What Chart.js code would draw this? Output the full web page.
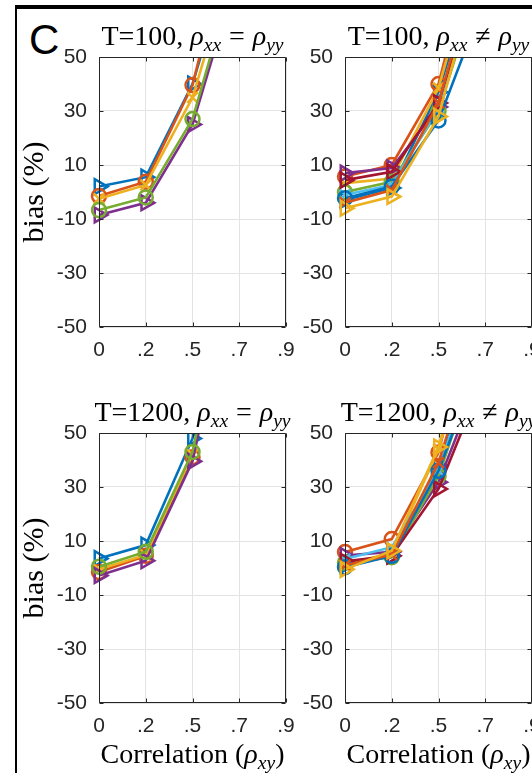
<!DOCTYPE html>
<html>
<head>
<meta charset="utf-8">
<script src="https://cdn.jsdelivr.net/npm/chart.js@4.4.1/dist/chart.umd.min.js"></script>
<style>
html,body{margin:0;padding:0;background:#fff;width:532px;height:773px;overflow:hidden;position:relative}
canvas{position:absolute}
.lab{position:absolute;font-family:'Liberation Serif',serif;color:#000;white-space:nowrap;line-height:1;font-size:28px}
.lab i{font-style:italic}
.lab sub{font-size:70%;vertical-align:-0.3em;line-height:0;font-style:italic}
.rel{margin:0 0.28em}
</style>
</head>
<body>
<div style="position:absolute;left:15px;top:5px;right:0;height:4px;background:#000"></div>
<div style="position:absolute;left:15px;top:5px;bottom:0;width:2px;background:#000"></div>
<div style="position:absolute;left:29px;top:19px;font-family:'Liberation Sans',sans-serif;font-size:42px;line-height:1;color:#000">C</div>
<script>
// ---------------- data ----------------
const categories = ['0', '.2', '.5', '.7', '.9'];
const yTickValues = [-50, -30, -10, 10, 30, 50];
const lineColors = ['#0072BD', '#D95319', '#EDB120', '#7E2F8E', '#77AC30', '#4DBEEE', '#A2142F'];
const markerCycle = ['>', 'o', 'x'];

// T=100, rho_xx = rho_yy
const t100EqualSeries = [
  [2, 5.5, 40, 98, 150],
  [-1.5, 3.8, 39.6, 109, 160],
  [-2.5, 2.6, 35, 93, 145],
  [-8.5, -4, 25, 83, 130],
  [-6.7, -2, 27, 87, 135]
];
// T=100, rho_xx != rho_yy
const t100UnequalSeries = [
  [-3, 1.5, 37, 95, 145],
  [5.7, 10, 40, 108, 160],
  [3.3, 5, 38.5, 100, 150],
  [7, 8.9, 31.5, 88, 135],
  [0, 3.8, 30, 85, 130],
  [-1, 2.6, 31, 88, 135],
  [4.4, 7.5, 33, 90, 140],
  [-2.3, 2, 26.5, 72, 120],
  [-4, 0.7, 33, 95, 145],
  [-6, -1.7, 28, 92, 140]
];
// T=1200, rho_xx = rho_yy
const t1200EqualSeries = [
  [3.5, 8.5, 48, 135, 190],
  [-1.5, 4.5, 41, 125, 180],
  [-0.5, 4.8, 42, 125, 180],
  [-2.8, 2.7, 39.5, 120, 170],
  [0.5, 6, 43, 125, 180]
];
// T=1200, rho_xx != rho_yy
const t1200UnequalSeries = [
  [1, 4.5, 38, 90, 140],
  [5.9, 10.7, 42.8, 112, 165],
  [1.5, 5.5, 44, 105, 160],
  [4.6, 6, 31.8, 76, 120],
  [2, 4, 34, 85, 130],
  [3.3, 7.7, 36, 90, 140],
  [2.5, 4.5, 29.3, 72, 115],
  [0.3, 4.5, 36, 82, 130],
  [1, 5, 39, 95, 145],
  [-0.5, 6.4, 44.8, 110, 165]
];

const panelTitles = [
  'T=100, <i>ρ</i><sub>xx</sub><span class="rel">=</span><i>ρ</i><sub>yy</sub>',
  'T=100, <i>ρ</i><sub>xx</sub><span class="rel">≠</span><i>ρ</i><sub>yy</sub>',
  'T=1200, <i>ρ</i><sub>xx</sub><span class="rel">=</span><i>ρ</i><sub>yy</sub>',
  'T=1200, <i>ρ</i><sub>xx</sub><span class="rel">≠</span><i>ρ</i><sub>yy</sub>'
];
const yAxisTitle = 'bias (%)';
const xAxisTitle = 'Correlation (<i>ρ</i><sub>xy</sub>)';

// ---------------- layout ----------------
const panels = [
  {series: t100EqualSeries,    area: {left: 99,  right: 286, top: 57,  bottom: 327}, title: panelTitles[0], ylab: true,  xlab: false},
  {series: t100UnequalSeries,  area: {left: 345, right: 532, top: 57,  bottom: 327}, title: panelTitles[1], ylab: false, xlab: false},
  {series: t1200EqualSeries,   area: {left: 99,  right: 286, top: 433, bottom: 703}, title: panelTitles[2], ylab: true,  xlab: true},
  {series: t1200UnequalSeries, area: {left: 345, right: 532, top: 433, bottom: 703}, title: panelTitles[3], ylab: false, xlab: true}
];

const AXC = '#262626';
const GRIDC = '#e3e3e3';
const tickFont = {family: "'Liberation Sans', Arial, sans-serif", size: 21};

const boxPlugin = {
  id: 'matlabBox',
  afterDraw(chart) {
    const {ctx, chartArea: a, scales: {x, y}} = chart;
    ctx.save();
    ctx.strokeStyle = AXC;
    ctx.lineWidth = 1;
    ctx.beginPath();
    const L = Math.round(a.left) + 0.5, R = Math.round(a.right) - 0.5;
    const T = Math.round(a.top) + 0.5, B = Math.round(a.bottom) - 0.5;
    ctx.rect(L, T, R - L, B - T);
    const tl = 4;
    x.ticks.forEach((t, i) => {
      const px = Math.round(x.getPixelForTick(i)) + 0.5;
      ctx.moveTo(px, B); ctx.lineTo(px, B - tl);
      ctx.moveTo(px, T); ctx.lineTo(px, T + tl);
    });
    y.ticks.forEach((t, i) => {
      const py = Math.round(y.getPixelForTick(i)) + 0.5;
      ctx.moveTo(L, py); ctx.lineTo(L + tl, py);
      ctx.moveTo(R, py); ctx.lineTo(R - tl, py);
    });
    ctx.stroke();
    ctx.restore();
  }
};

function markerProps(m) {
  if (m === '>') return {pointStyle: 'triangle', pointRotation: 90, pointRadius: 8.5};
  if (m === 'o') return {pointStyle: 'circle', pointRotation: 0, pointRadius: 7};
  return {pointStyle: 'crossRot', pointRotation: 0, pointRadius: 7.5};
}

function addLabel(html, style) {
  const d = document.createElement('div');
  d.className = 'lab';
  d.innerHTML = html;
  Object.assign(d.style, style);
  document.body.appendChild(d);
  return d;
}

panels.forEach((p) => {
  const Yw = 79, Xh = 42, Tp = 27, Rp = 26;
  const cx = p.area.left - Yw, cy = p.area.top - Tp;
  const W = p.area.right - cx + Rp, H = p.area.bottom - cy + Xh;
  const cv = document.createElement('canvas');
  cv.width = W; cv.height = H;
  cv.style.left = cx + 'px'; cv.style.top = cy + 'px';
  cv.style.width = W + 'px'; cv.style.height = H + 'px';
  document.body.appendChild(cv);

  const datasets = p.series.map((vals, i) => {
    const col = lineColors[i % lineColors.length];
    return Object.assign({
      data: vals,
      borderColor: col,
      backgroundColor: 'rgba(0,0,0,0)',
      pointBorderColor: col,
      pointBackgroundColor: 'rgba(0,0,0,0)',
      borderWidth: 2.6,
      pointBorderWidth: 2.5,
      tension: 0,
      fill: false,
      order: -i
    }, markerProps(markerCycle[i % markerCycle.length]));
  });

  new Chart(cv, {
    type: 'line',
    data: {labels: categories, datasets},
    plugins: [boxPlugin],
    options: {
      responsive: false,
      animation: false,
      devicePixelRatio: 1,
      layout: {padding: {left: 0, right: Rp, top: Tp, bottom: 0}},
      plugins: {legend: {display: false}, tooltip: {enabled: false}, title: {display: false}},
      scales: {
        x: {
          type: 'category', offset: false,
          grid: {color: GRIDC, drawTicks: false, offset: false, lineWidth: 1},
          border: {display: false},
          ticks: {padding: 11, font: tickFont, color: AXC, maxRotation: 0, autoSkip: false},
          afterFit: s => { s.height = Xh; }
        },
        y: {
          min: -50, max: 50,
          afterBuildTicks: s => { s.ticks = yTickValues.map(v => ({value: v})); },
          grid: {color: GRIDC, drawTicks: false, lineWidth: 1},
          border: {display: false},
          ticks: {padding: 12, font: tickFont, color: AXC},
          afterFit: s => { s.width = Yw; }
        }
      }
    }
  });

  const ctrX = (p.area.left + p.area.right) / 2;
  addLabel(p.title, {left: (ctrX - 200) + 'px', width: '400px', textAlign: 'center', top: (p.area.top - 35.5) + 'px'});
  if (p.ylab) {
    const ctrY = (p.area.top + p.area.bottom) / 2;
    addLabel(yAxisTitle, {left: (33 - 100) + 'px', width: '200px', height: '30px', fontSize: '30px', textAlign: 'center',
      top: (ctrY - 15) + 'px', transform: 'rotate(-90deg)', transformOrigin: '50% 50%'});
  }
  if (p.xlab) {
    addLabel(xAxisTitle, {left: (ctrX - 200) + 'px', width: '400px', textAlign: 'center', top: (p.area.bottom + 36.5) + 'px'});
  }
});
</script>
</body>
</html>
